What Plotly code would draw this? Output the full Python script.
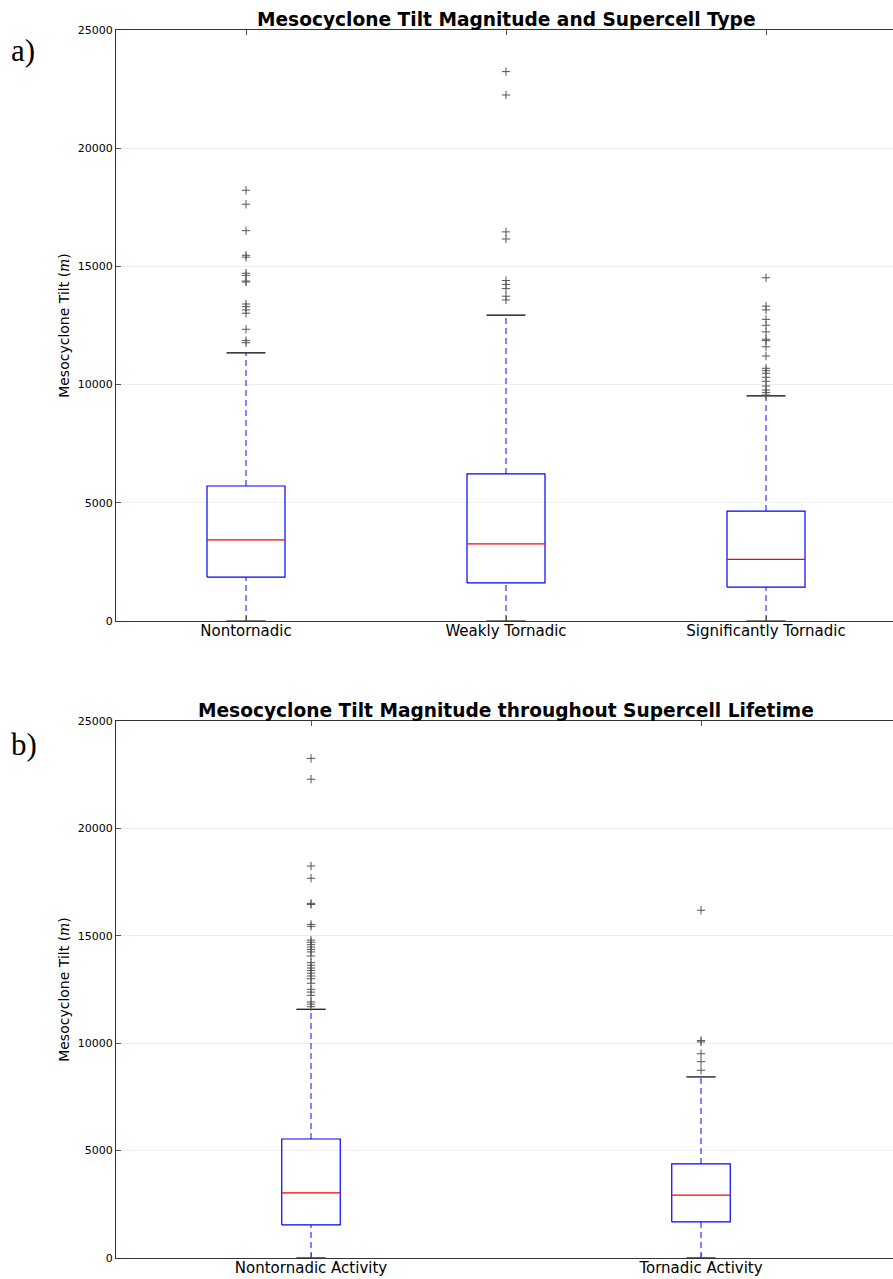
import plotly.graph_objects as go

# ---- Panel a: tilt magnitude by supercell type ----
type_labels = ["Nontornadic", "Weakly Tornadic", "Significantly Tornadic"]
type_q1 = [1860, 1610, 1430]
type_median = [3430, 3260, 2610]
type_q3 = [5710, 6220, 4650]
type_low = [0, 0, 0]
type_high = [11340, 12940, 9520]
type_fliers = [
    [18220, 17630, 16510, 15470, 15390, 14710, 14620, 14380, 14340, 13410,
     13300, 13160, 13020, 12340, 11860, 11770],
    [23240, 22250, 16460, 16160, 14400, 14240, 14060, 13740, 13580],
    [14520, 13320, 13160, 12760, 12510, 12230, 11920, 11860, 11600, 11210,
     10690, 10590, 10480, 10310, 10140, 9940, 9770, 9660, 9560],
]

# ---- Panel b: tilt magnitude through the supercell lifetime ----
life_labels = ["Nontornadic Activity", "Tornadic Activity"]
life_q1 = [1540, 1680]
life_median = [3030, 2930]
life_q3 = [5540, 4380]
life_low = [0, 0]
life_high = [11580, 8430]
life_fliers = [
    [23260, 22290, 18250, 17680, 16510, 16460, 15530, 15440, 14800, 14700,
     14590, 14480, 14370, 14250, 14060, 13750, 13630, 13500, 13380, 13260,
     13130, 13000, 12790, 12510, 12380, 12230, 11920, 11820, 11700],
    [16190, 10120, 10060, 9510, 9140, 8740],
]

FONT = "DejaVu Sans"
BOX_BLUE = "#0000ff"
W, H = 893, 1279
LEFT, TOP, BOTTOM = 116, 30, 21
PLOT_W = W - LEFT
PLOT_H = H - TOP - BOTTOM

fig = go.Figure()


def add_panel(xa, ya, q1s, meds, q3s, lows, highs, fliers, box_w):
    for i in range(len(meds)):
        pos = i + 1
        half = box_w / 2
        cap = box_w / 4
        # box outline
        fig.add_trace(go.Scatter(
            x=[pos - half, pos + half, pos + half, pos - half, pos - half],
            y=[q1s[i], q1s[i], q3s[i], q3s[i], q1s[i]], mode="lines",
            line=dict(color=BOX_BLUE, width=1.2), xaxis=xa, yaxis=ya,
            showlegend=False, hoverinfo="skip"))
        # median
        fig.add_trace(go.Scatter(
            x=[pos - half, pos + half], y=[meds[i], meds[i]], mode="lines",
            line=dict(color="red", width=1.2), xaxis=xa, yaxis=ya,
            showlegend=False, hoverinfo="skip"))
        # dashed whiskers
        for a, b in ((lows[i], q1s[i]), (q3s[i], highs[i])):
            fig.add_trace(go.Scatter(
                x=[pos, pos], y=[a, b], mode="lines",
                line=dict(color=BOX_BLUE, width=1.2, dash="6px,4px"),
                opacity=0.8, xaxis=xa, yaxis=ya,
                showlegend=False, hoverinfo="skip"))
        # caps
        for v in (lows[i], highs[i]):
            fig.add_trace(go.Scatter(
                x=[pos - cap, pos + cap], y=[v, v], mode="lines",
                line=dict(color="black", width=1.2), xaxis=xa, yaxis=ya,
                showlegend=False, hoverinfo="skip"))
        # outliers
        fig.add_trace(go.Scatter(
            x=[pos] * len(fliers[i]), y=fliers[i], mode="markers",
            marker=dict(symbol="cross-thin", size=6,
                        line=dict(color="#555555", width=1)),
            xaxis=xa, yaxis=ya, showlegend=False, hoverinfo="skip"))


add_panel("x", "y", type_q1, type_median, type_q3, type_low, type_high,
          type_fliers, 0.3)
add_panel("x2", "y2", life_q1, life_median, life_q3, life_low, life_high,
          life_fliers, 0.15)


def px_x(pix):
    return (pix - LEFT) / PLOT_W


def px_y(pix):
    return (H - BOTTOM - pix) / PLOT_H


axis_common = dict(
    showline=True, linecolor="#333333", linewidth=1, ticks="inside",
    ticklen=5, tickcolor="#555555", zeroline=False, automargin=False,
)
y_title = "Mesocyclone Tilt (<span style='font-family:DejaVu Serif'><i>m</i></span>)"
y_ticks = [0, 5000, 10000, 15000, 20000, 25000]

fig.update_layout(
    width=W, height=H,
    margin=dict(l=LEFT, r=0, t=TOP, b=BOTTOM, autoexpand=False),
    paper_bgcolor="white", plot_bgcolor="white",
    font=dict(family=FONT, color="black"),
    xaxis=dict(
        domain=[0, 1], anchor="y", range=[0.5, 0.5 + PLOT_W / 260],
        tickvals=[1, 2, 3], ticktext=type_labels, showgrid=False,
        mirror="allticks", tickfont=dict(size=15), ticklabelstandoff=-4,
        **axis_common),
    yaxis=dict(
        domain=[px_y(621), px_y(30)], anchor="x", range=[0, 25000],
        tickvals=y_ticks, tickformat="d",
        showgrid=True, gridcolor="#eeeeee", gridwidth=1,
        tickfont=dict(size=11),
        title=dict(text=y_title, font=dict(size=14), standoff=4),
        **axis_common),
    xaxis2=dict(
        domain=[0, 1], anchor="y2", range=[0.5, 0.5 + PLOT_W / 390],
        tickvals=[1, 2], ticktext=life_labels, showgrid=False,
        mirror="allticks", tickfont=dict(size=15), ticklabelstandoff=-4,
        **axis_common),
    yaxis2=dict(
        domain=[px_y(1258), px_y(721)], anchor="x2", range=[0, 25000],
        tickvals=y_ticks, tickformat="d",
        showgrid=True, gridcolor="#eeeeee", gridwidth=1,
        tickfont=dict(size=11),
        title=dict(text=y_title, font=dict(size=14), standoff=4),
        **axis_common),
    annotations=[
        dict(text="<b>Mesocyclone Tilt Magnitude and Supercell Type</b>",
             x=px_x(506), y=px_y(19), xref="paper", yref="paper",
             showarrow=False, xanchor="center", yanchor="middle",
             font=dict(size=18.6)),
        dict(text="<b>Mesocyclone Tilt Magnitude throughout Supercell Lifetime</b>",
             x=px_x(506), y=px_y(710), xref="paper", yref="paper",
             showarrow=False, xanchor="center", yanchor="middle",
             font=dict(size=18.6)),
        dict(text="a)", x=px_x(9), y=px_y(50), xref="paper", yref="paper",
             showarrow=False, xanchor="left", yanchor="middle",
             font=dict(size=31, family="Liberation Serif")),
        dict(text="b)", x=px_x(9), y=px_y(745), xref="paper", yref="paper",
             showarrow=False, xanchor="left", yanchor="middle",
             font=dict(size=31, family="Liberation Serif")),
    ],
)

fig.write_html("out.html")
